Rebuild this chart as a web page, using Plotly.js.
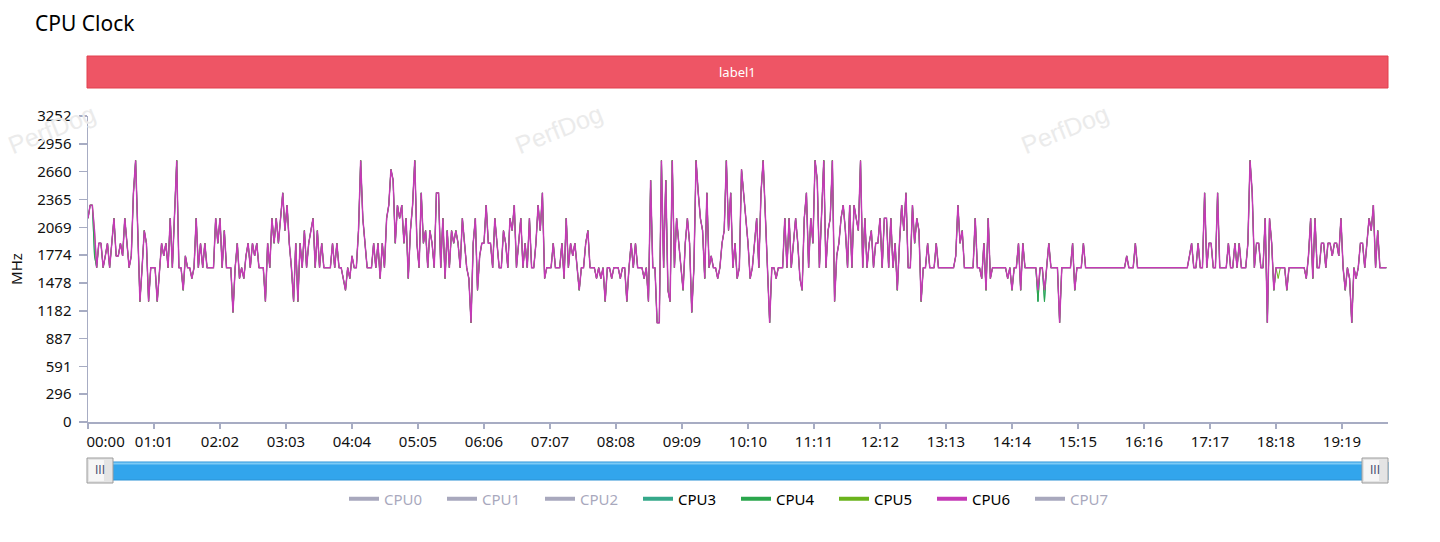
<!DOCTYPE html>
<html>
<head>
<meta charset="utf-8">
<script src="https://cdn.plot.ly/plotly-3.0.1.min.js"></script>
<style>
  html, body { margin: 0; padding: 0; background: #fff; }
  #chart { width: 1440px; height: 542px; }
</style>
</head>
<body>
<div id="chart"></div>
<script>
// one sample every 2 seconds, MHz
var sampleSec = 2;
var cpu6 = [
  2165,2305,2305,2035,1640,1900,1900,1640,1765,1900,
  1640,1900,2165,1765,1765,1900,1765,2165,1900,1640,
  1765,2435,2780,2035,1280,1640,2035,1900,1280,1640,
  1640,1640,1280,1640,1900,1765,1900,1640,2165,1640,
  2165,2780,1640,1640,1400,1765,1640,1640,1525,1640,
  2165,1640,1900,1640,1900,1640,1640,1640,1640,2165,
  1900,2165,1640,2035,1640,1640,1640,1165,1640,1900,
  1525,1640,1525,1765,1900,1640,1900,1765,1900,1640,
  1640,1640,1280,1900,1640,2165,1900,2165,1900,2165,
  2435,2035,2305,1900,1640,1280,1900,1280,1900,1640,
  2035,1640,1900,2035,2165,1640,2035,1640,1900,1640,
  1640,1640,1640,1900,1640,1900,1640,1640,1525,1400,
  1640,1525,1765,1640,1640,2035,2780,2165,1900,1640,
  1640,1640,1900,1640,1900,1525,1900,1640,2165,2305,
  2685,2570,1900,2305,2165,2305,1900,2165,1525,2035,
  2305,2780,1900,1640,2435,1900,2035,1640,2035,1900,
  1640,2435,2435,1640,2165,1525,2035,1640,2035,1900,
  2035,1900,1640,2165,1900,1640,1525,1055,1900,2165,
  1400,1765,1900,1900,2305,1900,1900,1640,2165,1900,
  1640,1640,2035,1900,1640,2165,2035,2305,1640,1900,
  2165,1640,1900,1640,2165,1640,1640,1900,2305,2035,
  2435,1525,1640,1640,1640,1900,1640,1640,1640,1900,
  1525,2165,1640,1900,1765,1900,1640,1400,1640,1640,
  1900,2035,1640,1640,1640,1525,1640,1525,1640,1280,
  1640,1640,1525,1640,1640,1640,1525,1640,1640,1280,
  1640,1900,1640,1900,1640,1640,1640,1525,1640,1280,
  2570,1640,1640,1055,1055,2780,1640,2570,1400,1280,
  2780,1640,2165,1900,1640,1400,1900,2165,1900,1165,
  1640,2780,2435,2165,2035,1525,2435,1640,1765,1640,
  1640,1525,1640,1900,2035,2780,2035,2435,1640,1900,
  1525,1640,2685,2435,2165,1900,1525,1640,1900,2165,
  1640,2435,2780,2165,1640,1055,1640,1640,1525,1640,
  1640,1640,2165,1640,2165,1640,1900,2165,1900,1525,
  1400,2165,2435,1640,2165,1900,2780,2570,1640,2165,
  2780,1640,2035,2165,2780,1280,1765,1900,2165,2305,
  2035,1640,2305,1640,2305,2165,2035,2780,1640,2165,
  1640,1900,2035,1640,1900,1900,2165,1640,2165,2165,
  1640,2165,1640,1900,1400,1900,2305,2035,2435,1640,
  1640,2305,1900,2165,2035,1280,1640,1640,1900,1640,
  1640,1640,1900,1640,1640,1640,1640,1640,1640,1640,
  1640,1765,2305,1900,2035,1640,1640,1640,1640,1640,
  2165,1640,1640,1525,1900,1400,2165,1525,1640,1640,
  1640,1640,1640,1640,1640,1525,1640,1400,1640,1640,
  1900,1400,1900,1640,1640,1640,1640,1640,1640,1400,
  1640,1640,1400,1640,1900,1640,1640,1640,1640,1055,
  1640,1640,1640,1640,1640,1900,1400,1640,1640,1640,
  1900,1640,1640,1640,1640,1640,1640,1640,1640,1640,
  1640,1640,1640,1640,1640,1640,1640,1640,1640,1640,
  1765,1640,1640,1640,1900,1640,1640,1640,1640,1640,
  1640,1640,1640,1640,1640,1640,1640,1640,1640,1640,
  1640,1640,1640,1640,1640,1640,1640,1640,1640,1765,
  1900,1640,1640,1900,1640,1640,2435,1640,1900,1900,
  1640,1640,2435,1640,1640,1640,1640,1900,1640,1640,
  1900,1640,1900,1640,1640,1640,1900,2780,2435,1640,
  1900,1900,1640,1640,2165,1055,2165,1900,1400,1640,
  1640,1640,1640,1640,1400,1640,1640,1640,1640,1640,
  1640,1640,1640,1525,1765,2165,1525,2165,1640,1640,
  1900,1900,1640,1900,1900,1765,1900,1900,1765,2165,
  1640,1400,1640,1525,1055,1640,1525,1640,1900,1900,
  1640,1900,2165,2035,2305,1640,2035,1640,1640,1640,
  1640
];
// the few samples where the other cores differ from CPU6 (index -> MHz)
var cpu3Diff = {3: 1765, 439: 1280, 442: 1280};
var cpu4Diff = {3: 1765, 439: 1280, 442: 1280};
var cpu5Diff = {550: 1525};

var cpuNames = ['CPU0','CPU1','CPU2','CPU3','CPU4','CPU5','CPU6','CPU7'];
var cpuColors = ['#52527c','#52527c','#52527c','#35a88a','#2aa64c','#6ab31c','#c43ab6','#52527c'];
var cpuHidden = ['CPU0','CPU1','CPU2','CPU7'];

var yTicks = [0,296,591,887,1182,1478,1774,2069,2365,2660,2956,3252];
var xTickSecs = [0,61,122,183,244,305,366,427,488,549,610,671,732,793,854,915,976,1037,1098,1159];
var xTickText = ['00:00','01:01','02:02','03:03','04:04','05:05','06:06','07:07','08:08','09:09',
  '10:10','11:11','12:12','13:13','14:14','15:15','16:16','17:17','18:18','19:19'];

var secs = cpu6.map(function(v, i){ return i * sampleSec; });
function withDiff(diff){
  return cpu6.map(function(v, i){ return diff[i] !== undefined ? diff[i] : v; });
}
var seriesData = {CPU3: withDiff(cpu3Diff), CPU4: withDiff(cpu4Diff), CPU5: withDiff(cpu5Diff), CPU6: cpu6};

var data = [];
['CPU3','CPU4','CPU5','CPU6'].forEach(function(n){
  var c = cpuColors[cpuNames.indexOf(n)];
  data.push({x: secs, y: seriesData[n], type: 'scatter', mode: 'lines', name: n,
    legendgroup: n, showlegend: false, hoverinfo: 'skip',
    line: {color: c, width: n === 'CPU6' ? 1.45 : 1}});
});
// legend entries (thicker swatches)
cpuNames.forEach(function(n, k){
  var hidden = cpuHidden.indexOf(n) >= 0;
  data.push({x: [null], y: [null], type: 'scatter', mode: 'lines', legendgroup: n,
    name: hidden ? '<span style="color:#52527c">' + n + '</span>' : n,
    visible: hidden ? 'legendonly' : true,
    line: {color: cpuColors[k], width: 4}});
});

// tick label text; the first one sits right of its tick
var xTickLabels = xTickText.map(function(t, i){
  return i === 0 ? '\u00a0\u00a0\u00a0\u00a0\u00a0\u00a0\u00a0\u00a0\u00a0' + t : t;
});

var axisCol = '#a7acc3';
var fnt = 'Noto Sans, sans-serif';
function py(pix){ return (422 - pix) / 306; }
function px(pix){ return (pix - 88) / 1300; }

function note(text, x, y, font, angle){
  return {text: text, xref: 'paper', yref: 'paper', x: px(x), y: py(y), showarrow: false,
    xanchor: 'center', yanchor: 'middle', textangle: angle || 0, font: font};
}
var wmFont = {family: 'Liberation Sans, Arial, sans-serif', size: 25, color: '#ebebeb'};
var knobFont = {family: 'Liberation Sans, Arial, sans-serif', size: 12, color: '#4b5372'};

var layout = {
  width: 1440, height: 542,
  margin: {l: 88, r: 52, t: 116, b: 120},
  paper_bgcolor: '#fff', plot_bgcolor: '#fff',
  font: {family: fnt, size: 15, color: '#111'},
  title: {text: 'CPU Clock', x: 35/1440, xref: 'container', xanchor: 'left',
    y: 1 - 24/542, yref: 'container', yanchor: 'middle', font: {size: 21, color: '#000'}},
  xaxis: {range: [0, 1201.5], tickmode: 'array', tickvals: xTickSecs, ticktext: xTickLabels,
    showgrid: false, zeroline: false, showline: true, linecolor: axisCol, linewidth: 1.5,
    ticks: 'outside', ticklen: 5, tickcolor: axisCol, tickwidth: 1.5,
    tickfont: {size: 15, color: '#111'}},
  yaxis: {range: [0, 3252], tickmode: 'array', tickvals: yTicks, ticktext: yTicks.map(String),
    showgrid: false, zeroline: false, showline: true, linecolor: axisCol, linewidth: 1.5,
    ticks: 'outside', ticklen: 8, tickcolor: axisCol, tickwidth: 1.5, ticklabelstandoff: 4,
    tickfont: {size: 15, color: '#111'},
    title: {text: 'MHz', standoff: 11, font: {size: 15, color: '#111'}}},
  showlegend: true,
  legend: {orientation: 'h', x: px(736), xanchor: 'center', y: py(499), yanchor: 'middle',
    font: {size: 15, color: '#000'}, entrywidth: 53, traceorder: 'normal', bgcolor: 'rgba(0,0,0,0)'},
  shapes: [
    {type: 'rect', xref: 'paper', yref: 'paper', x0: px(87), x1: 1, y0: py(88), y1: py(56),
      fillcolor: '#ee5565', line: {color: '#e2404f', width: 1}},
    {type: 'rect', xref: 'paper', yref: 'paper', x0: 0, x1: 1, y0: py(480), y1: py(462),
      fillcolor: '#32a5ec', line: {color: '#2a92d6', width: 1}},
    {type: 'rect', xref: 'paper', yref: 'paper', x0: 0, x1: 1, y0: py(464.5), y1: py(462.5),
      fillcolor: '#7ccaf5', line: {width: 0}},
    {type: 'rect', xref: 'paper', yref: 'paper', x0: px(87), x1: px(113), y0: py(483), y1: py(458),
      fillcolor: '#e4e4e4', line: {color: '#9c9c9c', width: 1}},
    {type: 'rect', xref: 'paper', yref: 'paper', x0: px(89), x1: px(104), y0: py(481), y1: py(460),
      fillcolor: '#f6f6f6', line: {width: 0}},
    {type: 'rect', xref: 'paper', yref: 'paper', x0: px(1362), x1: px(1388), y0: py(483), y1: py(458),
      fillcolor: '#e4e4e4', line: {color: '#9c9c9c', width: 1}},
    {type: 'rect', xref: 'paper', yref: 'paper', x0: px(1364), x1: px(1379), y0: py(481), y1: py(460),
      fillcolor: '#f6f6f6', line: {width: 0}}
  ],
  annotations: [
    note('label1', 737, 72, {size: 13, color: '#fff'}),
    note('III', 100, 470.5, knobFont),
    note('III', 1375, 470.5, knobFont),
    note('PerfDog', 52, 129, wmFont, -22),
    note('PerfDog', 559, 129, wmFont, -22),
    note('PerfDog', 1065, 129, wmFont, -22)
  ]
};

Plotly.newPlot('chart', data, layout, {displayModeBar: false, staticPlot: true});
</script>
</body>
</html>
